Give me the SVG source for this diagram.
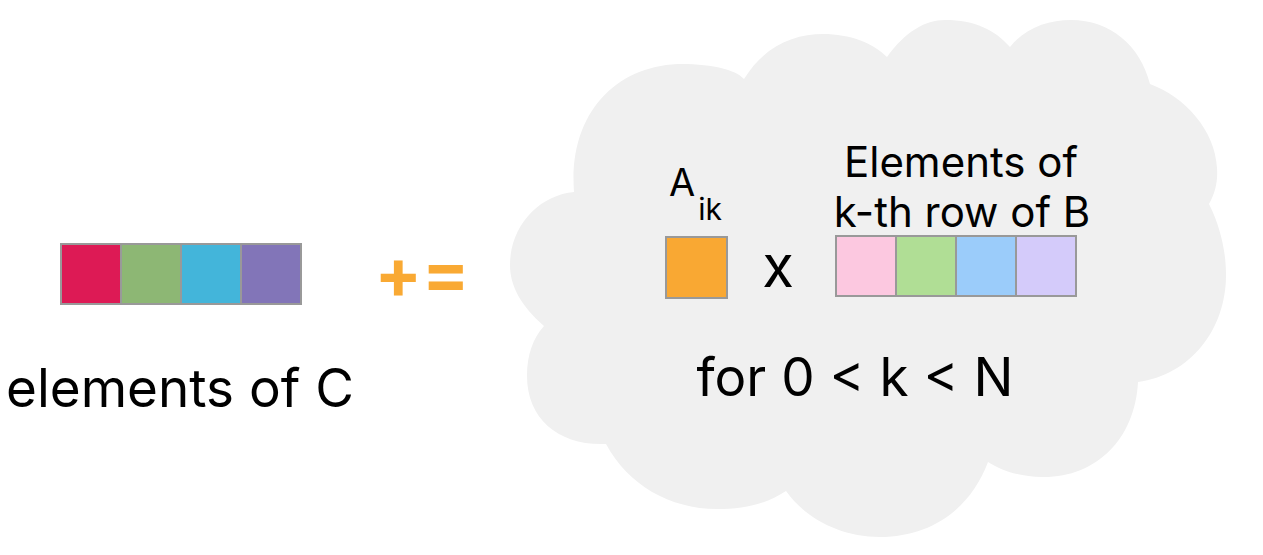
<svg xmlns="http://www.w3.org/2000/svg" width="1263" height="555" viewBox="0 0 1263 555">
<style>
.cell{stroke:#999999;stroke-width:2}
.t{font-family:Inter,"Noto Sans","Liberation Sans",sans-serif;fill:#000000}
</style>
<rect width="1263" height="555" fill="#ffffff"/>
<g id="cloud">
<path fill="#f0f0f0" d="M 574 192 C 568 110 620 62 687 64 C 720 65 738 72 744 79 C 765 45 795 34 823 34 C 850 34 873 43 887 57 C 905 32 925 20 945 20 C 975 20 995 30 1010 47 C 1025 28 1048 20 1071 20 C 1110 20 1140 45 1150 84 C 1185 97 1215 130 1217 168 C 1218 182 1215 193 1209 204 C 1222 230 1226 255 1226 275 C 1226 330 1190 375 1138 382 C 1135 440 1095 478 1042 477 C 1020 477 1000 470 988 462 C 970 510 930 537 880 537 C 840 537 805 518 786 491 C 765 505 742 509 717 509 C 670 509 628 485 606 444 C 560 446 527 420 527 376 C 527 355 533 338 544 326 C 520 305 510 285 510 265 C 510 225 540 195 574 192 Z"/>
</g>
<g id="c-row">
<rect class="cell" x="61" y="244" width="60" height="60" fill="#dd1a55"/>
<rect class="cell" x="121" y="244" width="60" height="60" fill="#8db774"/>
<rect class="cell" x="181" y="244" width="60" height="60" fill="#43b5da"/>
<rect class="cell" x="241" y="244" width="60" height="60" fill="#8275b8"/>
</g>
<g id="c-label"><text class="t" x="180" y="407" font-size="53" text-anchor="middle">elements of C</text></g>
<g id="op"><text x="422" y="298" font-family="Inter,'Liberation Sans',sans-serif" font-weight="bold" font-size="70" fill="#f9a933" text-anchor="middle">+=</text></g>
<g id="a-ik">
<text class="t" x="669" y="196" font-size="38">A<tspan font-size="30" dx="3" dy="24">ik</tspan></text>
<rect class="cell" x="666" y="237" width="61" height="61" fill="#f9a833"/>
</g>
<g id="times"><text class="t" x="778" y="287" font-size="58" text-anchor="middle">x</text></g>
<g id="b-row">
<text class="t" x="961" y="177" font-size="42" text-anchor="middle">Elements of</text>
<text class="t" x="962" y="227" font-size="42" text-anchor="middle">k-th row of B</text>
<rect class="cell" x="836" y="236" width="60" height="60" fill="#fcc8e0"/>
<rect class="cell" x="896" y="236" width="60" height="60" fill="#b0de95"/>
<rect class="cell" x="956" y="236" width="60" height="60" fill="#9bccfa"/>
<rect class="cell" x="1016" y="236" width="60" height="60" fill="#d4cbfa"/>
</g>
<g id="loop"><text class="t" x="855" y="396" font-size="53" text-anchor="middle">for 0 &lt; k &lt; N</text></g>
</svg>
